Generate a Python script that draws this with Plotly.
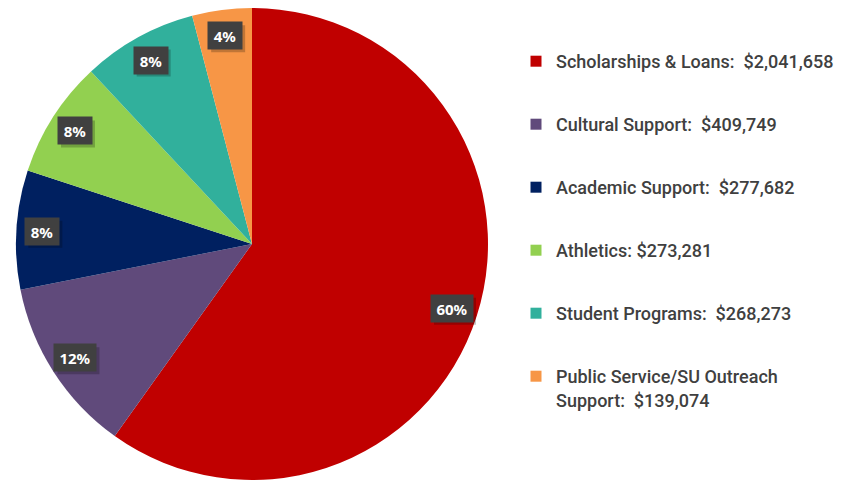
import math
import plotly.graph_objects as go

categories = ["Scholarships & Loans", "Cultural Support", "Academic Support",
              "Athletics", "Student Programs", "Public Service/SU Outreach Support"]
legend_labels = ["Scholarships & Loans:\u00a0 $2,041,658",
                 "Cultural Support:\u00a0 $409,749",
                 "Academic Support:\u00a0 $277,682",
                 "Athletics: $273,281",
                 "Student Programs:\u00a0 $268,273",
                 "Public Service/SU Outreach<br>Support:\u00a0 $139,074"]
values = [2041658, 409749, 277682, 273281, 268273, 139074]
colors = ["#C00000", "#604A7B", "#002060", "#92D050", "#31B09C", "#F79646"]

OFF = 8  # page body margin
W, H = 845 - OFF, 487 - OFF
cx, cy, R = 252 - OFF, 244 - OFF, 236

fig = go.Figure()
fig.add_trace(go.Pie(
    labels=categories, values=values, sort=False, direction="clockwise",
    rotation=0, textinfo="none", hoverinfo="label+value+percent",
    marker=dict(colors=colors, line=dict(width=0)),
    domain=dict(x=[(cx - R) / W, (cx + R) / W],
                y=[max(0, (H - cy - R) / H), min(1, (H - cy + R) / H)]),
    showlegend=False,
))

for i, (lab, col) in enumerate(zip(legend_labels, colors)):
    fig.add_trace(go.Scatter(x=[None], y=[None], mode="markers", name=lab,
                             legendgroup=str(i),
                             marker=dict(symbol="square", size=11, color=col)))

total = sum(values)
cum = 0
for v in values:
    frac = v / total
    mid = (cum + frac / 2) * 2 * math.pi
    cum += frac
    r = 0.89 * R
    px = cx + r * math.sin(mid)
    py = cy - r * math.cos(mid)
    txt = "<b>%d%%</b>" % round(frac * 100)
    bw = 42 if frac >= 0.1 else 34
    bh = 27
    # soft shadow behind the label box
    fig.add_shape(type="rect", xref="paper", yref="paper",
                  x0=(px - bw / 2 + 3) / W, x1=(px + bw / 2 + 3) / W,
                  y0=1 - (py + bh / 2 + 3) / H, y1=1 - (py - bh / 2 + 3) / H,
                  fillcolor="rgba(0,0,0,0.22)", line=dict(width=0), layer="above")
    fig.add_annotation(x=px / W, y=1 - py / H, xref="paper", yref="paper",
                       xanchor="center", yanchor="middle",
                       text=txt, showarrow=False, width=bw - 10, height=bh - 10,
                       font=dict(family="Noto Sans", size=15, color="white"),
                       bgcolor="#404040", borderpad=5)

fig.update_layout(
    width=W, height=H, margin=dict(l=0, r=0, t=0, b=0),
    paper_bgcolor="white", plot_bgcolor="white",
    xaxis=dict(visible=False), yaxis=dict(visible=False),
    legend=dict(x=(516 - OFF) / W, y=1 - (43 - OFF) / H, xanchor="left", yanchor="top",
                tracegroupgap=36.6, valign="top", bgcolor="rgba(0,0,0,0)",
                font=dict(family="Roboto, sans-serif", size=18, color="#404040", weight=500)),
)
fig.write_html("out.html")
